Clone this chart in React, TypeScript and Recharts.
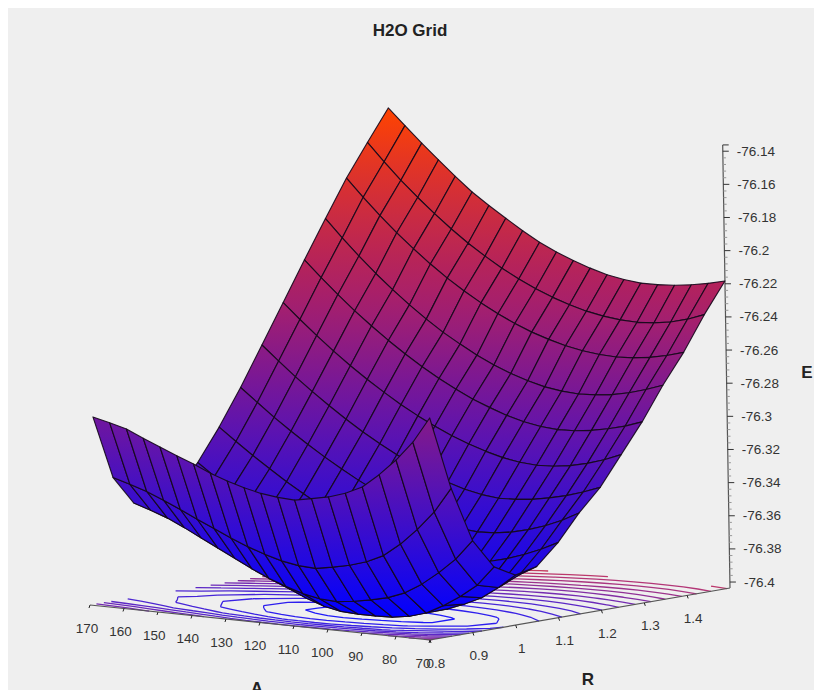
import { ScatterChart, Scatter, XAxis, YAxis } from 'recharts';

const W = 814;
const H = 690;

// grid of the surface, rows follow radii, columns follow angles
const angles = [170, 165, 160, 155, 150, 145, 140, 135, 130, 125, 120, 115, 110, 105, 100, 95, 90, 85, 80, 75, 70];
const radii = [0.8, 0.85, 0.9, 0.95, 1.0, 1.05, 1.1, 1.15, 1.2, 1.25, 1.3, 1.35, 1.4, 1.45, 1.5];
const energies = [
  [-76.2901, -76.2926, -76.2953, -76.2998, -76.304, -76.3082, -76.3122, -76.3167, -76.3203, -76.3233, -76.3257, -76.327, -76.3276, -76.3257, -76.3236, -76.3203, -76.3155, -76.307, -76.2971, -76.2853, -76.2696],
  [-76.3288, -76.3318, -76.3351, -76.3393, -76.3439, -76.3487, -76.3533, -76.3579, -76.3621, -76.3656, -76.3686, -76.3704, -76.371, -76.3692, -76.367, -76.3639, -76.3591, -76.3511, -76.3412, -76.3296, -76.3143],
  [-76.3463, -76.3496, -76.3533, -76.358, -76.3632, -76.3684, -76.3735, -76.3787, -76.3834, -76.3872, -76.3905, -76.3926, -76.3933, -76.392, -76.3901, -76.3877, -76.3838, -76.3775, -76.3695, -76.3603, -76.3481],
  [-76.3505, -76.3541, -76.3582, -76.3633, -76.369, -76.3746, -76.3802, -76.3859, -76.3921, -76.3967, -76.4003, -76.4024, -76.403, -76.403, -76.4027, -76.4012, -76.3982, -76.3927, -76.3861, -76.3783, -76.3662],
  [-76.3426, -76.3474, -76.3527, -76.3592, -76.3657, -76.3722, -76.3787, -76.3853, -76.3915, -76.3958, -76.3991, -76.4012, -76.4021, -76.4021, -76.4015, -76.4003, -76.3979, -76.3939, -76.3891, -76.3819, -76.3734],
  [-76.3282, -76.3355, -76.3425, -76.3492, -76.3556, -76.3615, -76.3672, -76.3725, -76.3773, -76.3817, -76.3856, -76.3889, -76.3914, -76.3927, -76.3923, -76.3909, -76.3886, -76.3854, -76.3813, -76.3763, -76.3704],
  [-76.3089, -76.3166, -76.324, -76.331, -76.3378, -76.3441, -76.3501, -76.3556, -76.3608, -76.3654, -76.3695, -76.3729, -76.3756, -76.377, -76.3767, -76.3755, -76.3736, -76.371, -76.3675, -76.3633, -76.3583],
  [-76.2871, -76.2952, -76.3031, -76.3105, -76.3175, -76.3241, -76.3303, -76.3361, -76.3413, -76.3461, -76.3503, -76.3539, -76.3569, -76.3591, -76.3601, -76.3597, -76.3582, -76.3557, -76.3524, -76.348, -76.3426],
  [-76.2636, -76.2723, -76.2808, -76.2887, -76.2962, -76.3034, -76.3101, -76.3162, -76.3218, -76.327, -76.3314, -76.3354, -76.3386, -76.3408, -76.342, -76.3417, -76.3407, -76.3388, -76.3364, -76.3332, -76.3294],
  [-76.2401, -76.2493, -76.258, -76.2664, -76.2742, -76.2815, -76.2883, -76.2948, -76.3005, -76.3058, -76.3105, -76.3145, -76.3179, -76.3207, -76.3225, -76.3233, -76.3229, -76.3215, -76.3192, -76.316, -76.3119],
  [-76.2165, -76.2262, -76.2354, -76.2442, -76.2524, -76.2601, -76.2673, -76.274, -76.2801, -76.2856, -76.2906, -76.2947, -76.2984, -76.3012, -76.3031, -76.304, -76.3037, -76.3025, -76.3005, -76.2979, -76.2944],
  [-76.1936, -76.2043, -76.2143, -76.2238, -76.2326, -76.2408, -76.2484, -76.2554, -76.2615, -76.2672, -76.2722, -76.2763, -76.2797, -76.2824, -76.284, -76.2847, -76.2843, -76.2831, -76.281, -76.2781, -76.2745],
  [-76.1713, -76.1819, -76.192, -76.2014, -76.2101, -76.2183, -76.2258, -76.2326, -76.2388, -76.2444, -76.2493, -76.2535, -76.2569, -76.2598, -76.2618, -76.2631, -76.2636, -76.2632, -76.2619, -76.2598, -76.2569],
  [-76.1519, -76.1626, -76.1728, -76.1822, -76.191, -76.1993, -76.2069, -76.2137, -76.22, -76.2256, -76.2305, -76.2347, -76.2382, -76.2411, -76.2431, -76.2444, -76.2449, -76.2443, -76.2428, -76.2401, -76.2364],
  [-76.1332, -76.1429, -76.1525, -76.1616, -76.1706, -76.1791, -76.1863, -76.193, -76.1996, -76.2056, -76.2105, -76.2147, -76.2183, -76.2213, -76.2232, -76.2244, -76.2244, -76.2238, -76.2225, -76.2207, -76.2183],
];

const angleTicks = [170, 160, 150, 140, 130, 120, 110, 100, 90, 80, 70];
const radiusTicks = [0.8, 0.9, 1, 1.1, 1.2, 1.3, 1.4];
const energyTicks = [-76.14, -76.16, -76.18, -76.2, -76.22, -76.24, -76.26, -76.28, -76.3, -76.32, -76.34, -76.36, -76.38, -76.4];

const E_BASE = -76.4036;
const E_TOP = -76.1362;
const E_LOW = -76.403;
const E_HIGH = -76.1332;

// oblique view of the box: (A, R, E) -> page position
const project = (a: number, r: number, e: number) => {
  const u = (170 - a) / 100;
  const v = (r - 0.8) / 0.7;
  const fx = 90 + 340 * u;
  const fy = 605 + 35 * u;
  const bx = 388 + 342 * u;
  const by = 556 + 32 * u;
  const bxx = fx + (bx - fx) * v;
  const byy = fy + (by - fy) * v;
  const h = (e - E_BASE) * 1657;
  return { x: bxx - ((bxx - 400) * h) / 20000, y: byy - h };
};

const colorStops: [number, number[]][] = [
  [0, [0, 0, 255]],
  [0.22, [56, 14, 205]],
  [0.37, [100, 20, 170]],
  [0.48, [130, 25, 140]],
  [0.6, [165, 32, 110]],
  [0.66, [176, 32, 96]],
  [0.76, [196, 42, 72]],
  [0.88, [225, 50, 40]],
  [1, [255, 68, 0]],
];

const colorAt = (e: number, lighten = 0) => {
  const t = Math.max(0, Math.min(1, (e - E_LOW) / (E_HIGH - E_LOW)));
  let k = 1;
  while (k < colorStops.length - 1 && colorStops[k][0] < t) k++;
  const [t0, c0] = colorStops[k - 1];
  const [t1, c1] = colorStops[k];
  const f = (t - t0) / (t1 - t0);
  const c = c0.map((v, n) => Math.round(v + (c1[n] - v) * f + (255 - v) * lighten));
  return `rgb(${c.join(',')})`;
};

// surface quads, far ones first so the near ones paint over them
type Quad = { corners: { x: number; y: number }[]; hi: number; lo: number; depth: number };
const quads: Quad[] = [];
radii.slice(0, -1).forEach((r, j) => {
  angles.slice(0, -1).forEach((a, i) => {
    const ids = [
      [i, j],
      [i + 1, j],
      [i + 1, j + 1],
      [i, j + 1],
    ];
    const es = ids.map(([p, q]) => energies[q][p]);
    quads.push({
      corners: ids.map(([p, q]) => project(angles[p], radii[q], energies[q][p])),
      hi: Math.max(...es),
      lo: Math.min(...es),
      depth: project(a, r, E_BASE).y + project(angles[i + 1], radii[j + 1], E_BASE).y,
    });
  });
});
quads.sort((p, q) => p.depth - q.depth);
const quadPoints = quads.flatMap((q) => q.corners);

const SurfaceLine = (props: any) => {
  const pts = props.points;
  return (
    <g>
      {quads.map((q, n) => {
        const c = pts.slice(n * 4, n * 4 + 4);
        const ys = c.map((p: any) => p.y);
        const id = `quad-${n}`;
        return (
          <g key={id}>
            <linearGradient id={id} gradientUnits="userSpaceOnUse" x1="0" x2="0" y1={Math.min(...ys)} y2={Math.max(...ys)}>
              <stop offset="0" stopColor={colorAt(q.hi)} />
              <stop offset="1" stopColor={colorAt(q.lo)} />
            </linearGradient>
            <polygon
              points={c.map((p: any) => `${p.x},${p.y}`).join(' ')}
              fill={`url(#${id})`}
              stroke="#14081a"
              strokeWidth={1.15}
              strokeOpacity={0.9}
              strokeLinejoin="round"
            />
          </g>
        );
      })}
    </g>
  );
};

// contour lines on the floor, marching squares over the same grid
const LEVELS = 20;
const contourLevels = Array.from({ length: LEVELS }, (_, n) => E_LOW + ((n + 0.5) * (E_HIGH - E_LOW)) / LEVELS);

const contourSegments = (level: number) => {
  const out: { x: number; y: number }[] = [];
  for (let j = 0; j < radii.length - 1; j++) {
    for (let i = 0; i < angles.length - 1; i++) {
      const cell = [
        [i, j],
        [i + 1, j],
        [i + 1, j + 1],
        [i, j + 1],
      ];
      const hits: { x: number; y: number }[] = [];
      cell.forEach(([p, q], n) => {
        const [p2, q2] = cell[(n + 1) % 4];
        const e1 = energies[q][p];
        const e2 = energies[q2][p2];
        if (e1 < level !== e2 < level) {
          const f = (level - e1) / (e2 - e1);
          hits.push(project(angles[p] + (angles[p2] - angles[p]) * f, radii[q] + (radii[q2] - radii[q]) * f, E_BASE));
        }
      });
      if (hits.length >= 2) out.push(hits[0], hits[1]);
      if (hits.length === 4) out.push(hits[2], hits[3]);
    }
  }
  return out;
};

// pairs of points become separate strokes
const segmentLine = (stroke: string, width: number) => (props: any) => {
  const d = props.points
    .map((p: any, n: number) => `${n % 2 ? 'L' : 'M'}${p.x} ${p.y}`)
    .join(' ');
  return <path d={d} fill="none" stroke={stroke} strokeWidth={width} />;
};

const NoDot = () => null;

const axisEdges = [
  project(170, 0.8, E_BASE),
  project(70, 0.8, E_BASE),
  project(70, 0.8, E_BASE),
  project(70, 1.5, E_BASE),
  project(70, 1.5, E_BASE),
  project(70, 1.5, E_TOP),
];

const floorTicks = [
  ...angleTicks.flatMap((a) => {
    const p = project(a, 0.8, E_BASE);
    return [p, { x: p.x - 1, y: p.y + 3 }];
  }),
  ...radiusTicks.flatMap((r) => {
    const p = project(70, r, E_BASE);
    return [p, { x: p.x + 1, y: p.y + 3 }];
  }),
];

const majorTicks = [...energyTicks, E_TOP].flatMap((e) => {
  const p = project(70, 1.5, e);
  return [p, { x: p.x + 6, y: p.y }];
});

const minorTicks = energyTicks.slice(0, -1).flatMap((e) =>
  [1, 2, 3, 4].flatMap((n) => {
    const p = project(70, 1.5, e - n * 0.004);
    return [p, { x: p.x + 3, y: p.y }];
  })
);

const angleLabels = angleTicks.map((a) => {
  const p = project(a, 0.8, E_BASE);
  return { x: p.x - 3 - (170 - a) * 0.04, y: p.y + 23, label: String(a) };
});
const radiusLabels = radiusTicks.map((r) => {
  const p = project(70, r, E_BASE);
  return { x: p.x + 6, y: p.y + 23, label: String(r) };
});
const energyLabels = energyTicks.map((e) => {
  const p = project(70, 1.5, e);
  return { x: p.x + 14, y: p.y, label: String(e) };
});

const TickText = (anchor: string) => (props: any) => (
  <text
    x={props.cx}
    y={props.cy}
    textAnchor={anchor}
    dominantBaseline="central"
    fontFamily="Liberation Sans"
    fontSize={13.5}
    fill="#333"
  >
    {props.payload.label}
  </text>
);

const BoldText = (size: number) => (props: any) => (
  <text
    x={props.cx}
    y={props.cy}
    textAnchor="middle"
    dominantBaseline="central"
    fontFamily="Liberation Sans"
    fontWeight="bold"
    fontSize={size}
    fill="#222"
  >
    {props.payload.label}
  </text>
);

const titleLabel = [{ x: 410, y: 30, label: 'H2O Grid' }];
const axisLabels = [
  { x: 807, y: 372, label: 'E' },
  { x: 257, y: 688, label: 'A' },
  { x: 588, y: 679, label: 'R' },
];
const backdrop = [{ x: 8, y: 8 }];

const App = () => {
  return (
    <div style={{ position: 'absolute', left: 0, top: 0, width: W, height: H, overflow: 'hidden', background: '#fff' }}>
      <ScatterChart width={W} height={H} margin={{ top: 0, right: 0, bottom: 0, left: 0 }}>
        <XAxis type="number" dataKey="x" domain={[0, W]} hide />
        <YAxis type="number" dataKey="y" domain={[0, H]} reversed hide />
        <Scatter
          data={backdrop}
          isAnimationActive={false}
          shape={(p: any) => <rect x={p.cx} y={p.cy} width={W} height={H} fill="#efefef" />}
        />
        {contourLevels.map((level) => (
          <Scatter
            key={level}
            data={contourSegments(level)}
            isAnimationActive={false}
            shape={NoDot}
            line={segmentLine(colorAt(level, 0.1), 1.3)}
          />
        ))}
        <Scatter data={axisEdges} isAnimationActive={false} shape={NoDot} line={segmentLine('#555', 1.2)} />
        <Scatter data={floorTicks} isAnimationActive={false} shape={NoDot} line={segmentLine('#222', 1)} />
        <Scatter data={minorTicks} isAnimationActive={false} shape={NoDot} line={segmentLine('#999', 1)} />
        <Scatter data={majorTicks} isAnimationActive={false} shape={NoDot} line={segmentLine('#333', 1)} />
        <Scatter data={quadPoints} isAnimationActive={false} shape={NoDot} line={(p: any) => <SurfaceLine {...p} />} />
        <Scatter data={angleLabels} isAnimationActive={false} shape={TickText('middle')} />
        <Scatter data={radiusLabels} isAnimationActive={false} shape={TickText('middle')} />
        <Scatter data={energyLabels} isAnimationActive={false} shape={TickText('start')} />
        <Scatter data={titleLabel} isAnimationActive={false} shape={BoldText(17)} />
        <Scatter data={axisLabels} isAnimationActive={false} shape={BoldText(17)} />
      </ScatterChart>
    </div>
  );
};

export default App;
